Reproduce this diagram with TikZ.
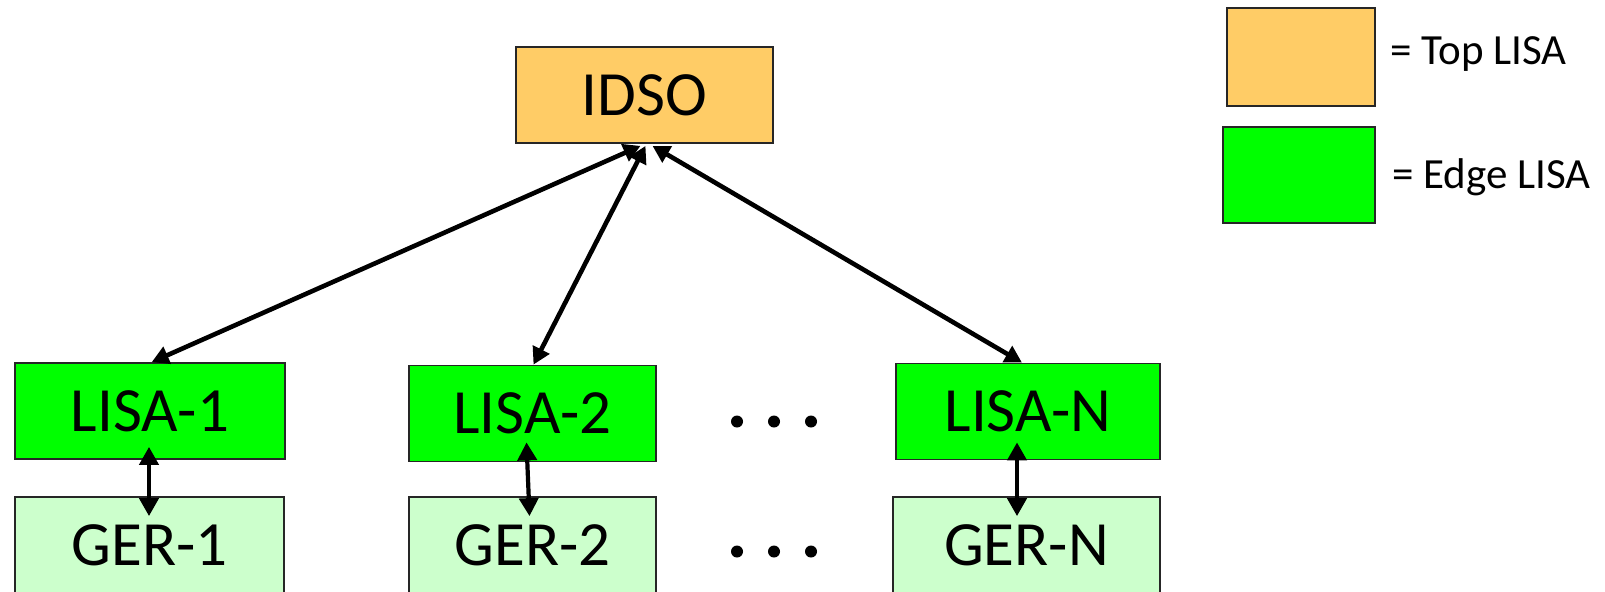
\documentclass[tikz,border=0pt]{standalone}
\usepackage{fontspec}
\setmainfont{Carlito}
\usetikzlibrary{arrows.meta}
\definecolor{topc}{HTML}{FFCC66}
\definecolor{edgec}{HTML}{00FF00}
\definecolor{gerc}{HTML}{CCFFCC}
\tikzset{
  box/.style={draw=black!85, line width=0.9pt, inner sep=0pt, font=\fontsize{31.5}{38}\selectfont},
  topbox/.style={box, fill=topc},
  edgebox/.style={box, fill=edgec, minimum height=48pt},
  gerbox/.style={box, fill=gerc, minimum height=48pt},
  arr/.style={line width=2.3pt, {Triangle[length=8.5pt,width=9pt]}-{Triangle[length=8.5pt,width=9pt]}},
  varr/.style={line width=2.1pt, {Triangle[length=9pt,width=9.5pt]}-{Triangle[length=9pt,width=9.5pt]}},
  legtext/.style={anchor=west, inner sep=0pt, font=\fontsize{21.5}{25}\selectfont},
  dot/.style={fill=black}
}
\begin{document}
\begin{tikzpicture}[x=0.5pt,y=-0.5pt]
\useasboundingbox (0,0) rectangle (1605,591);
% main nodes
\node[topbox, minimum width=128.5pt, minimum height=48pt] (idso) at (644.5,95) {IDSO};
\node[edgebox, minimum width=135pt] (lisa1) at (150,411) {LISA-1};
\node[edgebox, minimum width=123.5pt] (lisa2) at (532.5,413.5) {LISA-2};
\node[edgebox, minimum width=132pt] (lisaN) at (1028,411.5) {LISA-N};
\node[gerbox, minimum width=134.5pt] (ger1) at (149.5,545) {GER-1};
\node[gerbox, minimum width=123.5pt] (ger2) at (532.5,545) {GER-2};
\node[gerbox, minimum width=133.5pt] (gerN) at (1026.5,545) {GER-N};
% dots
\foreach \x in {737,774,811}{
  \fill[dot] (\x,421.5) circle[radius=6];
  \fill[dot] (\x,551.5) circle[radius=6];
}
% connectors
\draw[arr] ([xshift=0.85pt]lisa1.north) -- ([xshift=-2pt,yshift=-1pt]idso.south);
\draw[arr] ([xshift=0.5pt]lisa2.north) -- ([xshift=0.5pt,yshift=-1pt]idso.south);
\draw[arr] ([xshift=-3pt]lisaN.north) -- ([xshift=4pt,yshift=-1pt]idso.south);
\draw[varr] ([xshift=-0.5pt,yshift=6.5pt]lisa1.south) -- ([xshift=-0.25pt,yshift=-10pt]ger1.north);
\draw[varr] ([xshift=-3pt,yshift=10pt]lisa2.south) -- ([xshift=-1.5pt,yshift=-10pt]ger2.north);
\draw[varr] ([xshift=-5.5pt,yshift=9pt]lisaN.south) -- ([xshift=-4.75pt,yshift=-10pt]gerN.north);
% legend
\node[box, fill=topc, minimum width=74pt, minimum height=49pt] (legtop) at (1301,57) {};
\node[box, fill=edgec, minimum width=76pt, minimum height=48pt] (legedge) at (1299,175) {};
\node[legtext] (legtoptxt) at (1390,54) {= Top LISA};
\node[legtext] (legedgetxt) at (1392,177) {= Edge LISA};
\end{tikzpicture}
\end{document}
